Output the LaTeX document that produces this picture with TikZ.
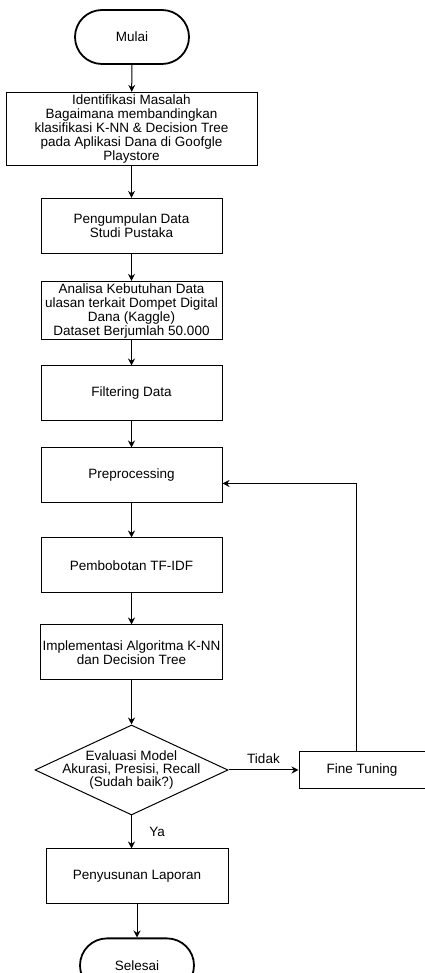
\documentclass[tikz,border=0pt]{standalone}
\usepackage{fontspec}
\setmainfont{Liberation Sans}
\usepackage{tikz}
\usetikzlibrary{shapes.geometric,arrows.meta,positioning,calc}

\begin{document}
\begin{tikzpicture}[
  x=1pt,y=1pt,
  font=\fontsize{13.5}{14}\selectfont,>={Stealth[length=7pt,width=7pt]},
  line width=1pt,
  term/.style={draw,line width=1.8pt,rounded corners=27pt,minimum width=114pt,minimum height=54pt},
  proc/.style={draw,align=center,minimum width=181pt,minimum height=55pt,inner sep=2pt},
  dec/.style={draw,diamond,minimum width=193pt,minimum height=90pt,inner sep=0pt}
]
\useasboundingbox (0,0) rectangle (425,-973);
\node[term] (mulai) at (132,-37) {Mulai};
\node[proc,below=27pt of mulai,xshift=-0.5pt,minimum width=251pt,minimum height=73pt] (ident)
  {Identifikasi Masalah\\Bagaimana membandingkan\\klasifikasi K-NN \& Decision Tree\\pada Aplikasi Dana di Goofgle\\Playstore};
\node[proc,below=32pt of ident,xshift=0pt] (kumpul) {Pengumpulan Data\\Studi Pustaka};
\node[proc,below=27pt of kumpul,minimum height=54pt] (analisa)
  {Analisa Kebutuhan Data\\ulasan terkait Dompet Digital\\Dana (Kaggle)\\Dataset Berjumlah 50.000};
\node[proc,below=25pt of analisa] (filter) {Filtering Data};
\node[proc,below=26pt of filter] (prep) {Preprocessing};
\node[proc,below=34pt of prep] (bobot) {Pembobotan TF-IDF};
\node[proc,below=31pt of bobot] (impl) {Implementasi Algoritma K-NN\\dan Decision Tree};
\node[dec,below=44pt of impl,
  label={[align=center,font=\fontsize{13.5}{13}\selectfont]center:Evaluasi Model\\Akurasi, Presisi, Recall\\(Sudah baik?)}] (eval) {};
\node[proc,right=70pt of eval,minimum width=126pt,minimum height=37pt] (fine) {Fine Tuning};
\node[proc,below=33pt of eval,xshift=5.5pt,minimum width=182pt] (lapor) {Penyusunan Laporan};
\node[term,below=33pt of lapor] (selesai) {Selesai};

\draw[->] (mulai) -- (ident);
\draw[->] (ident) -- (kumpul);
\draw[->] (kumpul) -- (analisa);
\draw[->] (analisa) -- (filter);
\draw[->] (filter) -- (prep);
\draw[->] (prep) -- (bobot);
\draw[->] (bobot) -- (impl);
\draw[->] (impl) -- (eval);
\draw[->] (eval) -- node[above,yshift=3pt]{Tidak} (fine);
\draw[->] ([xshift=-6pt]fine.north) |- ([yshift=-8pt]prep.east);
\draw[->] (eval.south) -- node[right,xshift=14pt]{Ya} (eval.south |- lapor.north);
\draw[->] (lapor) -- (selesai);
\end{tikzpicture}
\end{document}
